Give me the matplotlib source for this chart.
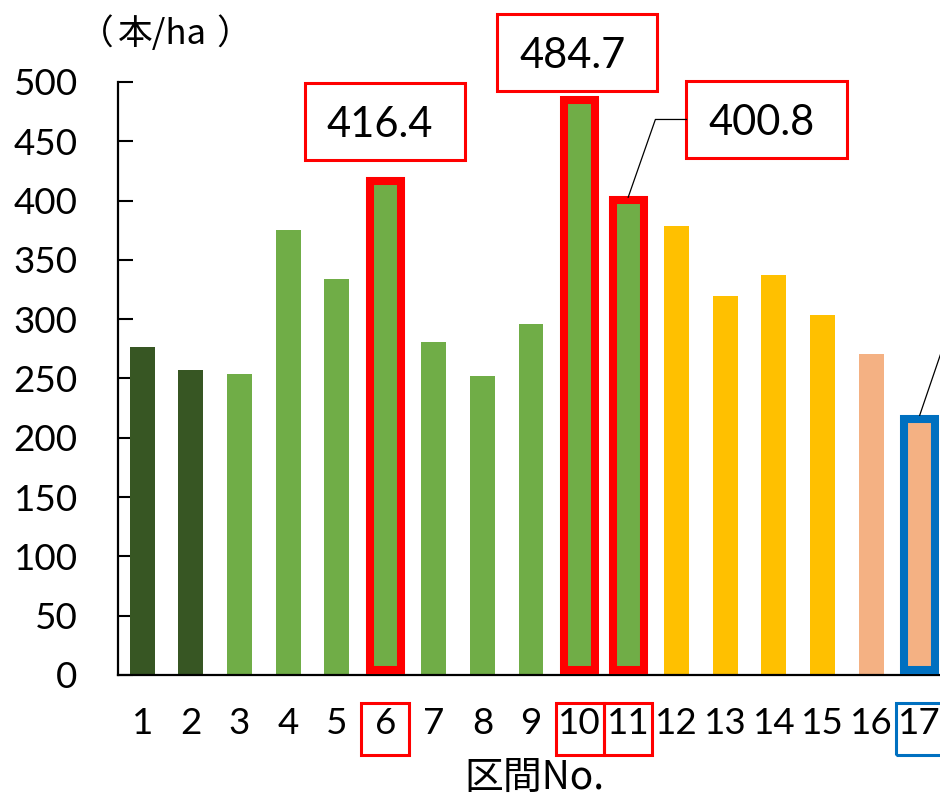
import matplotlib

matplotlib.use("Agg")
import matplotlib.pyplot as plt
from matplotlib.patches import Rectangle
from matplotlib.transforms import blended_transform_factory

# tree density per section (本/ha)
sections = list(range(1, 18))
density = [276.4, 257.0, 253.6, 375.3, 333.9, 416.4, 280.9, 252.5, 296.1,
           484.7, 400.8, 378.6, 319.5, 337.2, 303.6, 270.5, 216.0]
groups = ["dark"] * 2 + ["green"] * 9 + ["gold"] * 4 + ["peach"] * 2
red_marked = [6, 10, 11]
blue_marked = [17]
callouts = [6, 10, 11]

COLORS = {"dark": "#375623", "green": "#70AD47", "gold": "#FFC000", "peach": "#F4B183"}
RED = "#FF0000"
BLUE = "#0070C0"

# callout box centres (data coords) for the labelled sections
CALLOUT_POS = {6: (5.99, 466.7), 10: (9.95, 525.0), 11: (13.85, 468.4)}
BOX_W, BOX_H = 3.3, 65

plt.rcParams["font.family"] = ["Lato", "Noto Sans CJK JP", "DejaVu Sans"]
CJK = ["Noto Sans CJK JP", "DejaVu Sans"]

W, H = 940, 801
fig = plt.figure(figsize=(W / 100, H / 100), dpi=100)
ax = fig.add_axes([118 / W, 1 - 675 / H, 826 / W, (675 - 82) / H])

ax.bar(sections, density, width=0.514, color=[COLORS[g] for g in groups], zorder=2)
ax.set_xlim(0.5, 17.5)
ax.set_ylim(0, 500)
ax.set_yticks(range(0, 501, 50))
ax.set_xticks(sections)

for side in ("top", "right"):
    ax.spines[side].set_visible(False)
for side in ("left", "bottom"):
    ax.spines[side].set_linewidth(1.6)
    ax.spines[side].set_color("black")

ax.tick_params(axis="y", direction="in", length=10.5, width=1.5, pad=29, labelsize=26.5)
ax.tick_params(axis="x", length=0, pad=23, labelsize=26.5)

# highlight frames around bars and tick labels
trans = blended_transform_factory(ax.transData, fig.transFigure)
for s in red_marked + blue_marked:
    col = RED if s in red_marked else BLUE
    v = density[s - 1]
    ax.add_patch(Rectangle((s - 0.316, 4.2), 0.632, v - 4.2, fill=False, ec=col,
                           lw=5.8, joinstyle="miter", zorder=3, clip_on=False))
    ax.add_patch(Rectangle((s - 0.495, 1 - 755 / H), 0.99, 52 / H, transform=trans,
                           fill=False, ec=col, lw=2.2, joinstyle="miter", clip_on=False))

# value callouts
for s in callouts:
    cx, cy = CALLOUT_POS[s]
    ax.add_patch(Rectangle((cx - BOX_W / 2, cy - BOX_H / 2), BOX_W, BOX_H, fc="white",
                           ec=RED, lw=2.2, zorder=4, clip_on=False))
    ax.text(cx - 0.1, cy, f"{density[s - 1]:.1f}", ha="center", va="center_baseline",
            fontsize=30, zorder=5, clip_on=False)

# leader lines
cx, cy = CALLOUT_POS[11]
ax.plot([cx - BOX_W / 2, 11.56, 11.0], [cy, cy, density[10] + 2], color="black", lw=0.9,
        zorder=4, clip_on=False)
ax.plot([17.0, 17.6], [density[16] + 3, density[16] + 75], color="black", lw=0.9,
        zorder=4, clip_on=False)

# unit label, full-width brackets spaced as in the source
fig.text(96 / W, 1 - 35 / H, "（", ha="center", va="center", fontsize=25, family=CJK)
fig.text(162 / W, 1 - 35 / H, "本/ha", ha="center", va="center", fontsize=25, family=CJK)
fig.text(234 / W, 1 - 35 / H, "）", ha="center", va="center", fontsize=25, family=CJK)
fig.text(534 / W, 1 - 778 / H, "区間No.", ha="center", va="center", fontsize=28, family=CJK)

fig.savefig("out.png", dpi=100)
